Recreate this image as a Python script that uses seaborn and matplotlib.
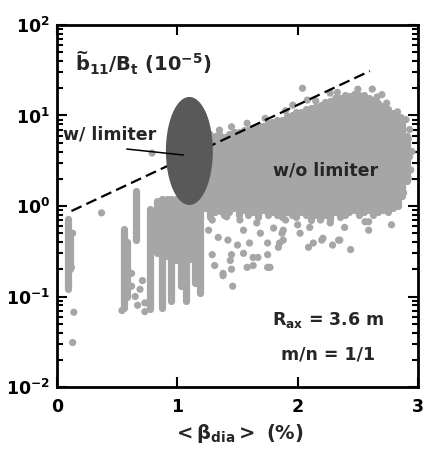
import numpy as np
import matplotlib
matplotlib.use("Agg")
import matplotlib.pyplot as plt
import seaborn as sns

sns.set_theme(style="ticks")
plt.rcParams["font.family"] = ["DejaVu Sans"]
plt.rcParams["font.weight"] = "bold"
plt.rcParams["mathtext.fontset"] = "dejavusans"

GRAY = "#a6a6a6"
DARK = "#595959"

# ---- data ----
# dense columns of points: x, lowest y, highest y
col_x = [0.09, 0.11, 0.56, 0.58, 0.66, 0.77,
         0.83, 0.87, 0.91, 0.95, 0.99, 1.03, 1.07, 1.11, 1.15, 1.19,
         1.23, 1.27, 1.31, 1.35, 1.39, 1.43, 1.47, 1.51, 1.55, 1.59, 1.63,
         1.67, 1.71, 1.75, 1.79, 1.83, 1.87, 1.91, 1.95, 1.99, 2.03, 2.07,
         2.11, 2.15, 2.19, 2.23, 2.27, 2.31, 2.35, 2.39, 2.43, 2.47, 2.51,
         2.55, 2.59, 2.63, 2.67, 2.71, 2.75, 2.79, 2.83, 2.87, 2.91]
col_lo = [0.12, 0.20, 0.075, 0.10, 0.42, 0.072,
          0.30, 0.075, 0.28, 0.09, 0.25, 0.13, 0.09, 0.26, 0.14, 0.11,
          0.95, 0.75, 0.85, 0.90, 0.80, 0.85, 0.95, 0.80, 0.90, 0.80, 0.85,
          0.75, 0.90, 0.80, 0.85, 0.80, 0.75, 0.85, 0.80, 0.75, 0.85, 0.80,
          0.70, 0.80, 0.75, 0.80, 0.70, 0.85, 0.75, 0.80, 0.85, 0.90, 0.80,
          0.85, 0.90, 0.80, 0.85, 0.90, 0.85, 0.95, 1.00, 1.30, 1.90]
col_hi = [0.72, 0.50, 0.55, 0.40, 1.45, 0.92,
          1.15, 1.18, 1.18, 1.18, 1.20, 1.20, 1.20, 1.20, 1.20, 1.50,
          5.5, 5.2, 6.0, 6.3, 5.8, 6.3, 6.5, 6.6, 6.9, 7.0, 7.3,
          7.6, 7.6, 8.2, 8.4, 9.0, 9.0, 9.8, 10.0, 10.8, 10.8, 11.8,
          12.0, 12.8, 13.2, 14.0, 14.4, 15.5, 15.8, 16.8, 16.6, 17.2, 16.8,
          16.8, 15.8, 14.8, 13.8, 12.6, 11.8, 10.6, 9.5, 8.0, 6.0]

# isolated points
pt_x = [0.13, 0.12, 0.11, 0.14, 0.13, 0.37, 0.79,
        0.62, 0.65, 0.67, 0.69, 0.73, 0.73, 0.58, 0.54, 0.62, 0.71,
        1.29, 1.26, 1.37, 1.41, 1.34, 1.42, 1.45, 1.45, 1.38, 1.50, 1.55,
        1.60, 1.63, 1.58, 1.69, 1.75, 1.75, 1.75, 1.84, 1.87, 1.90, 1.80,
        1.66, 1.52, 1.29, 1.31,
        1.88, 1.88, 2.02, 2.10, 2.13, 2.09, 2.21, 2.29, 2.35, 2.44, 2.39,
        2.59, 2.59, 2.78, 2.27, 2.00, 2.19,
        1.46, 1.38, 1.44, 1.63, 1.77, 1.55, 1.67, 1.85, 2.20, 2.34, 2.56,
        2.04, 2.62, 2.70, 2.74, 2.83, 2.90, 1.96, 2.27, 2.08, 1.69, 1.35,
        2.93, 2.95, 2.94,
        1.45, 1.58, 1.73, 1.90, 2.15, 2.33, 2.50, 2.66, 2.86, 2.92, 2.93,
        2.92, 2.88, 1.27, 1.21]
pt_y = [0.50, 0.21, 0.33, 0.067, 0.031, 0.84, 3.85,
        0.13, 0.10, 0.08, 0.12, 0.085, 0.068, 0.11, 0.07, 0.18, 0.15,
        0.70, 0.54, 0.86, 0.76, 0.45, 0.42, 0.29, 0.20, 0.17, 0.37, 0.54,
        0.39, 0.27, 0.21, 0.50, 0.39, 0.29, 0.21, 0.35, 0.50, 0.70, 0.57,
        0.65, 0.70, 0.29, 0.22,
        0.54, 0.42, 0.50, 0.58, 0.39, 0.35, 0.44, 0.37, 0.42, 0.33, 0.58,
        0.54, 0.67, 0.62, 0.65, 0.62, 0.70,
        0.13, 0.18, 0.25, 0.22, 0.21, 0.30, 0.27, 0.39, 0.42, 0.42, 0.67,
        20.0, 19.6, 17.0, 13.7, 11.0, 9.0, 13.0, 17.7, 14.8, 7.5, 6.9,
        7.0, 4.0, 2.5,
        7.5, 8.2, 9.3, 11.3, 14.5, 18.0, 19.5, 16.0, 9.5, 5.5, 3.5,
        2.0, 1.4, 6.2, 1.7]

# dashed guide line (end points)
dash_x = [0.12, 2.60]
dash_y = [0.88, 31.0]

# "w/ limiter" ellipse (centre x, centre log10 y, half widths)
ell_cx, ell_cly, ell_ax, ell_bly = 1.10, 0.608, 0.195, 0.597

# annotation pointer
ptr_x = [0.58, 1.05]
ptr_y = [4.26, 3.66]

xticks = [0, 1, 2, 3]
yticks = [1e-2, 1e-1, 1e0, 1e1, 1e2]
ytick_labels = [r"$\mathbf{10^{-2}}$", r"$\mathbf{10^{-1}}$", r"$\mathbf{10^{0}}$",
                r"$\mathbf{10^{1}}$", r"$\mathbf{10^{2}}$"]

# ---- figure ----
fig = plt.figure(figsize=(4.24, 4.51), dpi=100)
ax = fig.add_axes([57 / 424, 1 - 387 / 451, 361 / 424, 362 / 451])
ax.set_facecolor("white")
ax.set_yscale("log")

for cx, lo, hi in zip(col_x, col_lo, col_hi):
    ax.plot([cx, cx], [lo, hi], color=GRAY, lw=5.2, solid_capstyle="round",
            zorder=2)
sns.scatterplot(x=pt_x, y=pt_y, ax=ax, s=27, color=GRAY, edgecolor="none",
                linewidth=0, legend=False, zorder=2)

sns.lineplot(x=dash_x, y=dash_y, ax=ax, color="black", lw=1.6,
             linestyle=(0, (5.0, 2.4)), zorder=4)

t = np.linspace(0, 2 * np.pi, 300)
ax.fill(ell_cx + ell_ax * np.cos(t), 10 ** (ell_cly + ell_bly * np.sin(t)),
        color=DARK, zorder=5, lw=0)

ax.plot(ptr_x, ptr_y, color="black", lw=1.1, zorder=6)

ax.set_xlim(0, 3)
ax.set_ylim(1e-2, 1e2)
ax.set_xticks(xticks)
ax.set_xticklabels([str(v) for v in xticks], fontsize=12.5, fontweight="bold")
ax.set_yticks(yticks)
ax.set_yticklabels(ytick_labels, fontsize=12.5)
ax.yaxis.set_minor_locator(matplotlib.ticker.LogLocator(base=10, subs=np.arange(2, 10)))
ax.yaxis.set_minor_formatter(matplotlib.ticker.NullFormatter())
ax.xaxis.set_minor_locator(matplotlib.ticker.NullLocator())
ax.tick_params(which="both", direction="in", top=True, right=True, width=1.5,
               colors="black")
ax.tick_params(which="major", length=7)
ax.tick_params(which="minor", length=4)
ax.tick_params(axis="x", pad=8)
ax.tick_params(axis="y", pad=5)
for s in ax.spines.values():
    s.set_linewidth(2.0)
    s.set_color("black")

ax.set_xlabel(r"$\mathbf{{<}\beta_{dia}{>}\ (\%)}$", fontsize=14, labelpad=4)

ax.text(0.15, 31, r"$\mathbf{b_{11}/B_t\ (10^{-5})}$", fontsize=14,
        ha="left", va="baseline", zorder=7)
ax.text(0.208, 43.5, "~", fontsize=11, fontweight="bold",
        ha="center", va="baseline", zorder=7)
ax.text(0.05, 5.37, "w/ limiter", fontsize=12.5, fontweight="bold",
        ha="left", va="baseline", zorder=7)
ax.text(2.23, 2.2, "w/o limiter", fontsize=12.5, fontweight="bold",
        ha="center", va="baseline", zorder=7)
ax.text(2.25, 0.0484, r"$\mathbf{R_{ax}}$ = 3.6 m", fontsize=12.5,
        fontweight="bold", ha="center", va="baseline", zorder=7)
ax.text(2.25, 0.0199, "m/n = 1/1", fontsize=12.5, fontweight="bold",
        ha="center", va="baseline", zorder=7)

fig.savefig("out.png", dpi=100, facecolor="white")
